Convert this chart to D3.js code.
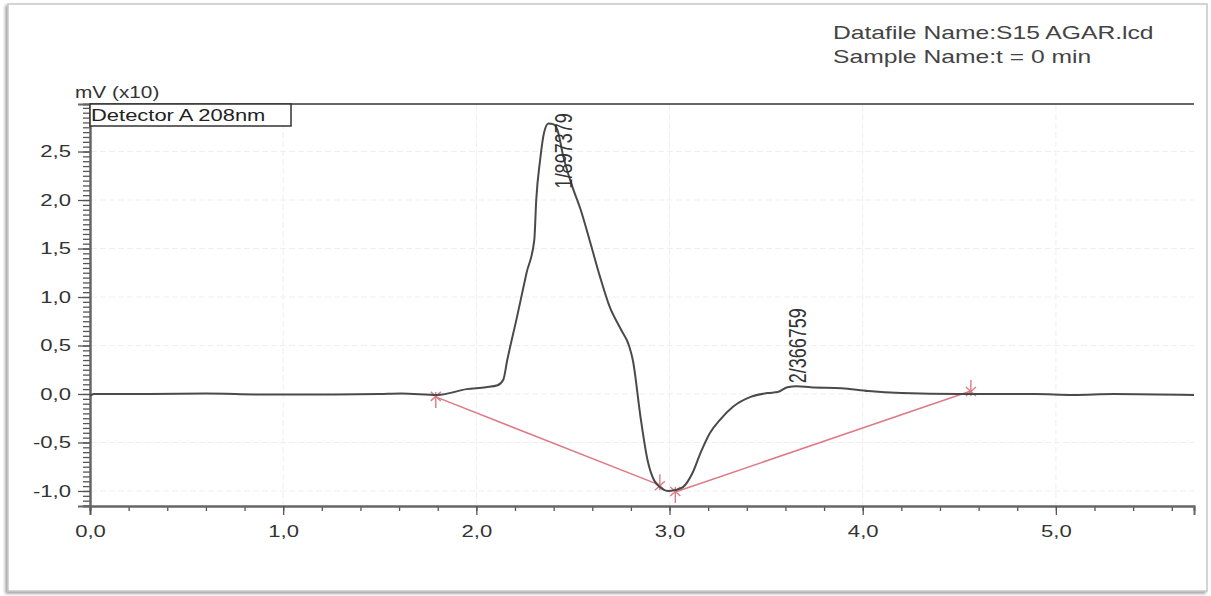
<!DOCTYPE html>
<html>
<head>
<meta charset="utf-8">
<script src="https://cdn.jsdelivr.net/npm/d3@7"></script>
<style>
  body { margin: 0; background: #fff; }
  svg { display: block; font-family: "Liberation Sans", Arial, sans-serif; }
</style>
</head>
<body>
<svg id="chrom"></svg>
<script>
// chromatogram trace, time (min) vs signal (mV x10)
var trace_t = [0.00, 0.02, 0.30, 0.60, 0.90, 1.20, 1.50, 1.61, 1.80, 1.95, 2.05, 2.11, 2.14, 2.16, 2.21, 2.26, 2.30, 2.31, 2.33, 2.35, 2.373, 2.40, 2.42, 2.45, 2.50, 2.54, 2.59, 2.64, 2.69, 2.75, 2.79, 2.81, 2.85, 2.886, 2.92, 2.95, 2.99, 3.03, 3.07, 3.12, 3.16, 3.21, 3.26, 3.33, 3.42, 3.51, 3.56, 3.61, 3.66, 3.73, 3.89, 4.03, 4.20, 4.50, 4.89, 5.09, 5.30, 5.715];
var trace_v = [-0.02, 0.00, 0.00, 0.005, -0.005, -0.005, 0.00, 0.005, -0.01, 0.05, 0.07, 0.09, 0.15, 0.35, 0.79, 1.25, 1.59, 2.00, 2.41, 2.69, 2.79, 2.78, 2.72, 2.45, 2.12, 1.90, 1.56, 1.21, 0.90, 0.66, 0.50, 0.35, -0.24, -0.68, -0.89, -0.96, -1.00, -0.99, -0.96, -0.81, -0.61, -0.40, -0.27, -0.13, -0.03, 0.01, 0.02, 0.07, 0.08, 0.07, 0.06, 0.03, 0.01, 0.00, 0.00, -0.01, 0.00, -0.01];

// integration baseline points (start/end of each peak), dir = marker tail direction
var base_t = [1.79, 2.95, 3.03, 4.56];
var base_v = [-0.03, -0.94, -1.01, 0.03];
var base_dir = [1, -1, 1, -1];

// peak labels
var peak_names = ["1/897379", "2/366759"];
var peak_t = [2.45, 3.66];
var peak_v = [2.12, 0.11];

var x_major = [0, 1, 2, 3, 4, 5];
var y_major = [-1.0, -0.5, 0.0, 0.5, 1.0, 1.5, 2.0, 2.5];

var W = 1211, H = 596;
var SX = 1.3; // the source picture is stretched sideways
var svg = d3.select("#chrom").attr("width", W).attr("height", H);

// outer frame with soft shadow
var defs = svg.append("defs");
var f = defs.append("filter").attr("id", "sh").attr("x", "-5%").attr("y", "-5%").attr("width", "110%").attr("height", "110%");
f.append("feDropShadow").attr("dx", -2).attr("dy", 2).attr("stdDeviation", 1.5).attr("flood-color", "#777").attr("flood-opacity", 0.7);
svg.append("rect")
  .attr("x", 8).attr("y", 4).attr("width", 1199).attr("height", 587)
  .attr("fill", "#fff").attr("stroke", "#c8c8c8").attr("stroke-width", 1.5)
  .attr("filter", "url(#sh)");

var scaleX = d3.scaleLinear().domain([0, 5.715]).range([90, 1194]);
var scaleY = d3.scaleLinear().domain([-1.155, 2.99]).range([506, 104]);

function fmt(d) { return d.toFixed(1).replace(".", ","); }

// faint grid
svg.append("g").selectAll("line").data(y_major).enter().append("line")
  .attr("x1", 91).attr("x2", 1194)
  .attr("y1", function(d) { return scaleY(d); }).attr("y2", function(d) { return scaleY(d); })
  .attr("stroke", "#efefef").attr("stroke-width", 1).attr("stroke-dasharray", "6,3");
svg.append("g").selectAll("line").data(x_major.slice(1)).enter().append("line")
  .attr("y1", 105).attr("y2", 505)
  .attr("x1", function(d) { return scaleX(d); }).attr("x2", function(d) { return scaleX(d); })
  .attr("stroke", "#efefef").attr("stroke-width", 1).attr("stroke-dasharray", "6,3");

// top frame line
svg.append("line").attr("x1", 90).attr("x2", 1194).attr("y1", 104).attr("y2", 104)
  .attr("stroke", "#666").attr("stroke-width", 2);

// x axis
var x_minor = d3.range(0, 57).map(function(i) { return i * 0.2; }).filter(function(d) { return d <= 5.7; });
var xMinorAxis = d3.axisBottom(scaleX).tickValues(x_minor).tickSize(5).tickFormat("");
var xAxis = d3.axisBottom(scaleX).tickValues(x_major).tickSize(9).tickPadding(10).tickFormat(fmt);
svg.append("g").attr("transform", "translate(0,506)").call(xMinorAxis);
var gx = svg.append("g").attr("class", "x axis").attr("transform", "translate(0,506)").call(xAxis);

// y axis
var y_minor = d3.range(0, 84).map(function(i) { return -1.15 + i * 0.05; }).filter(function(d) { return d <= 2.96; });
var yMinorAxis = d3.axisLeft(scaleY).tickValues(y_minor).tickSize(7).tickFormat("");
var yAxis = d3.axisLeft(scaleY).tickValues(y_major).tickSize(12).tickPadding(6).tickFormat(fmt);
svg.append("g").attr("transform", "translate(90,0)").call(yMinorAxis);
var gy = svg.append("g").attr("class", "y axis").attr("transform", "translate(90,0)").call(yAxis);

svg.selectAll(".tick line").attr("stroke", "#555").attr("stroke-width", 1.3);
svg.selectAll(".domain").attr("stroke", "#666").attr("stroke-width", 2);
svg.selectAll(".tick text").attr("font-size", "17px").attr("fill", "#333")
  .attr("font-family", "'Liberation Sans', Arial, sans-serif")
  .attr("transform", "scale(" + SX + ",1)");
gy.selectAll(".tick text").attr("x", -19 / SX);

function label(txt, x, y, size, col, sx) {
  return svg.append("text").text(txt)
    .attr("transform", "translate(" + x + "," + y + ") scale(" + sx + ",1)")
    .attr("font-size", size).attr("fill", col);
}

// units and detector box
label("mV (x10)", 75, 98, "16px", "#333", SX);
svg.append("rect").attr("x", 90).attr("y", 104).attr("width", 201).attr("height", 22)
  .attr("fill", "#fff").attr("stroke", "#333").attr("stroke-width", 1.5);
label("Detector A 208nm", 91, 121, "16.5px", "#222", 1.33);

// header
label("Datafile Name:S15 AGAR.lcd", 833, 39, "18px", "#444", 1.37);
label("Sample Name:t = 0 min", 833, 63, "18px", "#444", 1.37);

// baseline segments
var red = "#dd7a86";
var basePts = base_t.map(function(t, i) { return {t: t, v: base_v[i], dir: base_dir[i]}; });
[[0, 1], [2, 3]].forEach(function(pair) {
  svg.append("line")
    .attr("x1", scaleX(basePts[pair[0]].t)).attr("y1", scaleY(basePts[pair[0]].v))
    .attr("x2", scaleX(basePts[pair[1]].t)).attr("y2", scaleY(basePts[pair[1]].v))
    .attr("stroke", red).attr("stroke-width", 1.5);
});
basePts.forEach(function(p) {
  var cx = scaleX(p.t), cy = scaleY(p.v), d = p.dir;
  var g = svg.append("g").attr("stroke", red).attr("stroke-width", 1.4);
  g.append("line").attr("x1", cx).attr("x2", cx).attr("y1", cy - 5 * d).attr("y2", cy + 11 * d);
  g.append("line").attr("x1", cx - 5).attr("x2", cx + 5).attr("y1", cy - 5 * d).attr("y2", cy + 4 * d);
  g.append("line").attr("x1", cx + 5).attr("x2", cx - 5).attr("y1", cy - 5 * d).attr("y2", cy + 4 * d);
});

// trace
var lineGen = d3.line()
  .x(function(d) { return scaleX(d[0]); })
  .y(function(d) { return scaleY(d[1]); })
  .curve(d3.curveMonotoneX);
svg.append("path")
  .attr("d", lineGen(trace_t.map(function(t, i) { return [t, trace_v[i]]; })))
  .attr("fill", "none").attr("stroke", "#4a4a4a").attr("stroke-width", 2);

// peak labels (rotated)
peak_names.forEach(function(name, i) {
  var px = scaleX(peak_t[i]) + 9, py = scaleY(peak_v[i]);
  svg.append("text").text(name)
    .attr("transform", "translate(" + px + "," + py + ") rotate(-90) scale(1," + SX + ")")
    .attr("font-size", "18px").attr("fill", "#333");
});
</script>
</body>
</html>
